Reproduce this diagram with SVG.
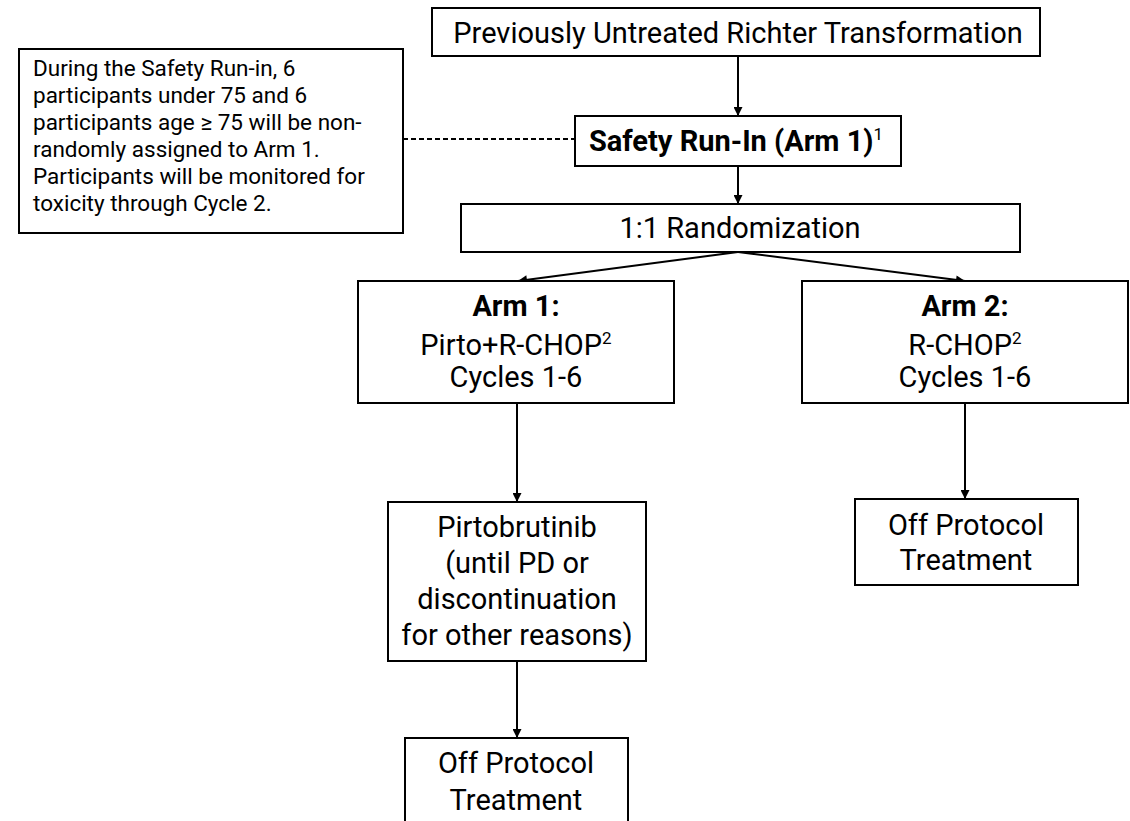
<svg xmlns="http://www.w3.org/2000/svg" width="1130" height="821" viewBox="0 0 1130 821">
<style>
.box{fill:#fff;stroke:#000;stroke-width:2}
.t{font-family:Roboto,"Liberation Sans",sans-serif;font-size:29px;fill:#000;text-anchor:middle}
.n{font-family:Roboto,"Liberation Sans",sans-serif;font-size:22.5px;fill:#000}
.b{font-weight:bold}
.s{font-size:17px;font-weight:normal}
.c{stroke:#000;stroke-width:2;fill:none}
</style>
<defs>
<marker id="ah" viewBox="0 0 10 10" refX="10" refY="5" markerWidth="10" markerHeight="9" orient="auto" markerUnits="userSpaceOnUse">
<path d="M0,0 L10,5 L0,10 z" fill="#000"/>
</marker>
</defs>
<rect width="1130" height="821" fill="#fff"/>
<g id="connectors">
<line class="c" x1="738" y1="56" x2="738" y2="116" marker-end="url(#ah)"/>
<line class="c" x1="403" y1="139" x2="575" y2="139" stroke-dasharray="5,3"/>
<line class="c" x1="738" y1="166" x2="738" y2="204" marker-end="url(#ah)"/>
<line class="c" x1="738" y1="252" x2="518" y2="281" marker-end="url(#ah)"/>
<line class="c" x1="738" y1="252" x2="965" y2="281" marker-end="url(#ah)"/>
<line class="c" x1="517" y1="403" x2="517" y2="502" marker-end="url(#ah)"/>
<line class="c" x1="517" y1="661" x2="517" y2="738" marker-end="url(#ah)"/>
<line class="c" x1="965" y1="403" x2="965" y2="499" marker-end="url(#ah)"/>
</g>
<g id="top">
<rect class="box" x="432" y="8" width="608" height="48"/>
<text class="t" x="738" y="43" font-size="31.5">Previously Untreated Richter Transformation</text>
</g>
<g id="note">
<rect class="box" x="19" y="49" width="384" height="184"/>
<text class="n" x="33" y="76">During the Safety Run-in, 6</text>
<text class="n" x="33" y="103">participants  under 75 and 6</text>
<text class="n" x="33" y="130">participants  age ≥ 75 will be non-</text>
<text class="n" x="33" y="157">randomly assigned  to Arm 1.</text>
<text class="n" x="33" y="184">Participants will be monitored for</text>
<text class="n" x="33" y="211">toxicity through Cycle 2.</text>
</g>
<g id="safety">
<rect class="box" x="575" y="116" width="326" height="50"/>
<text class="t b" x="736" y="151">Safety Run-In (Arm 1)<tspan class="s" dy="-11">1</tspan></text>
</g>
<g id="random">
<rect class="box" x="461" y="204" width="559" height="48"/>
<text class="t" x="740" y="238">1:1 Randomization</text>
</g>
<g id="arm1">
<rect class="box" x="358" y="281" width="316" height="122"/>
<text class="t b" x="516" y="316">Arm 1:</text>
<text class="t" x="516" y="355">Pirto+R-CHOP<tspan class="s" dy="-11">2</tspan></text>
<text class="t" x="516" y="387">Cycles 1-6</text>
</g>
<g id="arm2">
<rect class="box" x="802" y="281" width="326" height="122"/>
<text class="t b" x="965" y="316">Arm 2:</text>
<text class="t" x="965" y="355">R-CHOP<tspan class="s" dy="-11">2</tspan></text>
<text class="t" x="965" y="387">Cycles 1-6</text>
</g>
<g id="pirto">
<rect class="box" x="388" y="502" width="258" height="159"/>
<text class="t" x="517" y="537">Pirtobrutinib</text>
<text class="t" x="517" y="573">(until PD or</text>
<text class="t" x="517" y="609">discontinuation</text>
<text class="t" x="517" y="645">for other reasons)</text>
</g>
<g id="off1">
<rect class="box" x="405" y="738" width="223" height="100"/>
<text class="t" x="516" y="773">Off Protocol</text>
<text class="t" x="516" y="810">Treatment</text>
</g>
<g id="off2">
<rect class="box" x="855" y="499" width="223" height="86"/>
<text class="t" x="966" y="535">Off Protocol</text>
<text class="t" x="966" y="570">Treatment</text>
</g>
</svg>
